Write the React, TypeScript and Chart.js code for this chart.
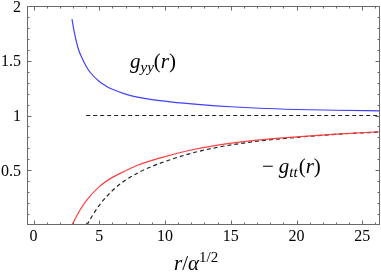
import React, { useEffect, useRef } from "react";
import { Chart, registerables } from "chart.js";

Chart.register(...registerables);

const xTicks = [0, 5, 10, 15, 20, 25];
const yTicks = [0.5, 1, 1.5, 2];

const blueR = [2.92, 3.1, 3.4, 3.7, 4.0, 4.3, 5.0, 5.5, 6.0, 7.0, 8.0, 9.0, 10.4, 12.7, 15.0, 17.2, 20.0, 23.0, 26.4];
const blueG = [1.88, 1.76, 1.61, 1.52, 1.45, 1.395, 1.31, 1.27, 1.24, 1.195, 1.165, 1.145, 1.125, 1.10, 1.08, 1.066, 1.055, 1.048, 1.043];

const redR = [2.92, 3.5, 4.0, 5.0, 6.0, 7.0, 8.0, 9.0, 10.0, 12.0, 14.0, 17.0, 20.0, 23.0, 26.4];
const redG = [0, 0.13, 0.22, 0.35, 0.435, 0.495, 0.55, 0.59, 0.625, 0.685, 0.73, 0.775, 0.805, 0.83, 0.852];

const dashR = [4.06, 4.5, 5.0, 6.0, 7.0, 8.0, 9.0, 10.0, 12.0, 14.0, 17.0, 20.0, 23.0, 26.4];
const dashG = [0, 0.09, 0.18, 0.315, 0.41, 0.48, 0.535, 0.58, 0.655, 0.71, 0.765, 0.8, 0.828, 0.85];

const flatR = [4.0, 26.4];
const flatG = [1, 1];

const pts = (xs: number[], ys: number[]) => xs.map((x, i) => ({ x, y: ys[i] }));

type Piece = { t: string; italic?: boolean; size: number; dy?: number; dx?: number };

function drawPieces(ctx: CanvasRenderingContext2D, x: number, y: number, pieces: Piece[]) {
  let cx = x;
  for (const p of pieces) {
    cx += p.dx || 0;
    ctx.font = (p.italic ? "italic " : "") + p.size + 'px "Liberation Serif"';
    ctx.fillText(p.t, cx, y + (p.dy || 0));
    cx += ctx.measureText(p.t).width;
  }
}

const framePlugin = {
  id: "frame",
  afterDraw(chart: any) {
    const { ctx, chartArea: a, scales } = chart;
    const xs = scales.x;
    const ys = scales.y;
    ctx.save();
    ctx.strokeStyle = "#6a6a6a";
    ctx.lineWidth = 1;
    ctx.strokeRect(a.left + 0.5, a.top + 0.5, a.right - a.left - 1, a.bottom - a.top - 1);
    ctx.beginPath();
    for (let v = 0; v <= 26; v += 1) {
      const px = Math.round(xs.getPixelForValue(v)) + 0.5;
      const len = v % 5 === 0 ? 4.5 : 2.5;
      ctx.moveTo(px, a.bottom);
      ctx.lineTo(px, a.bottom - len);
      ctx.moveTo(px, a.top);
      ctx.lineTo(px, a.top + len);
    }
    for (let k = 1; k < 20; k += 1) {
      const v = k / 10;
      const py = Math.round(ys.getPixelForValue(v)) + 0.5;
      const len = k % 5 === 0 ? 4.5 : 2.5;
      ctx.moveTo(a.left, py);
      ctx.lineTo(a.left + len, py);
      ctx.moveTo(a.right, py);
      ctx.lineTo(a.right - len, py);
    }
    ctx.stroke();

    ctx.fillStyle = "#000";
    ctx.textBaseline = "alphabetic";
    ctx.font = '16px "Liberation Serif"';
    ctx.textAlign = "center";
    for (const v of xTicks) {
      ctx.fillText(String(v), xs.getPixelForValue(v), 241);
    }
    ctx.textAlign = "right";
    for (const v of yTicks) {
      ctx.fillText(String(v), 21, ys.getPixelForValue(v) + 5.5);
    }
    ctx.textAlign = "left";
    drawPieces(ctx, 130, 68, [
      { t: "g", italic: true, size: 21 },
      { t: "yy", italic: true, size: 15, dy: 4 },
      { t: "(", size: 21 },
      { t: "r", italic: true, size: 21 },
      { t: ")", size: 21 },
    ]);
    drawPieces(ctx, 262, 173, [
      { t: "\u2212", size: 21 },
      { t: "g", italic: true, size: 21, dx: 5 },
      { t: "tt", italic: true, size: 15, dy: 4 },
      { t: "(", size: 21, dx: 1 },
      { t: "r", italic: true, size: 21 },
      { t: ")", size: 21 },
    ]);
    drawPieces(ctx, 174, 270, [
      { t: "r", italic: true, size: 21 },
      { t: "/", size: 21 },
      { t: "\u03b1", italic: true, size: 21 },
      { t: "1/2", size: 15, dy: -8 },
    ]);
    ctx.restore();
  },
};

export default function App() {
  const ref = useRef<HTMLCanvasElement | null>(null);
  useEffect(() => {
    document.body.style.margin = "0";
    const chart = new Chart(ref.current!, {
      type: "scatter",
      data: {
        datasets: [
          { data: pts(blueR, blueG), borderColor: "#4040ff", borderWidth: 1.2, showLine: true, pointRadius: 0, cubicInterpolationMode: "monotone" },
          { data: pts(redR, redG), borderColor: "#ff4040", borderWidth: 1.2, showLine: true, pointRadius: 0, cubicInterpolationMode: "monotone" },
          { data: pts(dashR, dashG), borderColor: "#222", borderWidth: 1.2, borderDash: [4, 3], showLine: true, pointRadius: 0, cubicInterpolationMode: "monotone" },
          { data: pts(flatR, flatG), borderColor: "#222", borderWidth: 1.2, borderDash: [4, 3], showLine: true, pointRadius: 0 },
        ],
      } as any,
      options: {
        animation: false,
        responsive: false,
        devicePixelRatio: 1,
        layout: { padding: { top: 6, right: 1, left: 0, bottom: 0 } },
        plugins: { legend: { display: false }, tooltip: { enabled: false } },
        scales: {
          x: {
            type: "linear",
            min: -0.5,
            max: 26.35,
            grid: { display: false, drawTicks: false },
            border: { display: false },
            ticks: { display: false },
            afterBuildTicks: (s: any) => { s.ticks = xTicks.map((v) => ({ value: v })); },
            afterFit: (s: any) => { s.height = 48; },
          },
          y: {
            type: "linear",
            min: 0,
            max: 2,
            grid: { display: false, drawTicks: false },
            border: { display: false },
            ticks: { display: false },
            afterBuildTicks: (s: any) => { s.ticks = yTicks.map((v) => ({ value: v })); },
            afterFit: (s: any) => { s.width = 27; },
          },
        },
      } as any,
      plugins: [framePlugin],
    });
    return () => chart.destroy();
  }, []);
  return (
    <div style={{ position: "absolute", left: 0, top: 0, width: 381, height: 273 }}>
      <canvas ref={ref} width={381} height={273} />
    </div>
  );
}
